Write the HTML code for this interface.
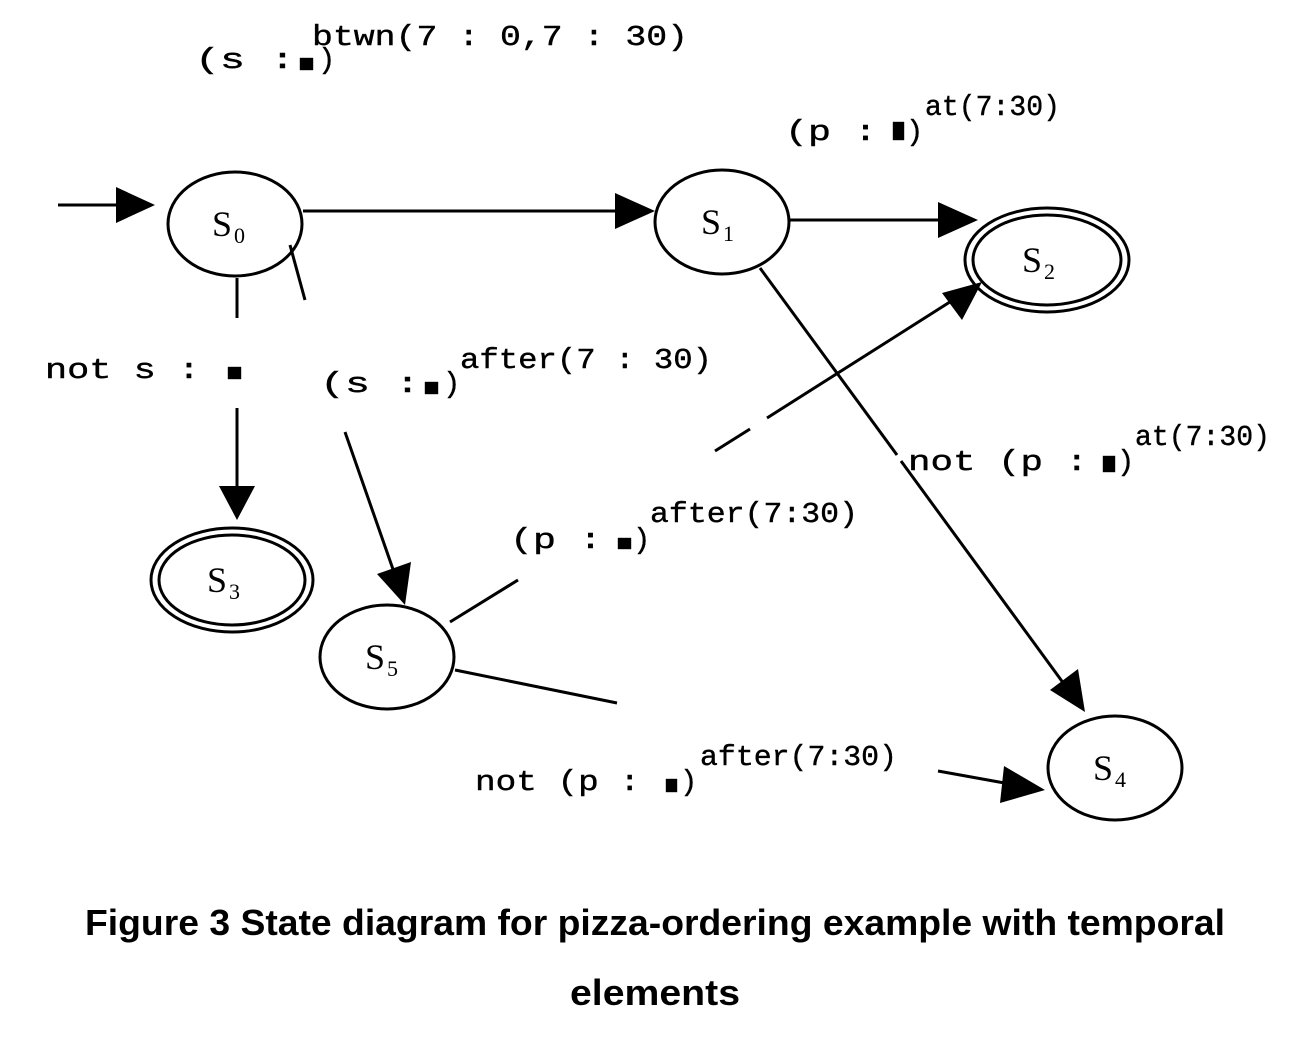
<!DOCTYPE html>
<html><head><meta charset="utf-8"><style>
html,body{margin:0;padding:0;background:#fff;}
svg{display:block}
.m{font-family:"Liberation Mono",monospace;font-size:29px;fill:#000;stroke:#000;stroke-width:0.4}
.s{font-family:"Liberation Serif",serif;font-size:36px;fill:#000}
.sub{font-family:"Liberation Serif",serif;font-size:22px;fill:#000}
.c{font-family:"Liberation Sans",sans-serif;font-size:36px;fill:#000;font-weight:bold}
</style></head><body>
<svg width="1306" height="1044" viewBox="0 0 1306 1044" xmlns="http://www.w3.org/2000/svg">
<defs><marker id="a" markerWidth="10" markerHeight="10" refX="10" refY="5" orient="auto" markerUnits="userSpaceOnUse" viewBox="0 0 10 10"><path d="M0,0 L10,5 L0,10z" fill="#000"/></marker></defs>
<g stroke="#000" stroke-width="3" fill="none">
<ellipse cx="235" cy="224" rx="67" ry="52"/>
<ellipse cx="722" cy="222" rx="67" ry="52"/>
<ellipse cx="1047" cy="260" rx="82" ry="52"/>
<ellipse cx="1047" cy="260" rx="74" ry="45"/>
<ellipse cx="232" cy="580" rx="81" ry="52"/>
<ellipse cx="232" cy="580" rx="73" ry="45"/>
<ellipse cx="1115" cy="768" rx="67" ry="52"/>
<ellipse cx="387" cy="657" rx="67" ry="52"/>
<line x1="58" y1="205" x2="118" y2="205"/>
<line x1="303" y1="211" x2="620" y2="211"/>
<line x1="789" y1="220" x2="945" y2="220"/>
<line x1="760" y1="268" x2="897" y2="455"/>
<line x1="901" y1="461" x2="1064" y2="684"/>
<line x1="237" y1="278" x2="237" y2="318"/>
<line x1="237" y1="408" x2="237" y2="488"/>
<line x1="290" y1="245" x2="305" y2="300"/>
<line x1="345" y1="432" x2="395" y2="575"/>
<line x1="450" y1="622" x2="518" y2="580"/>
<line x1="715" y1="451" x2="750" y2="429"/>
<line x1="767" y1="418" x2="953" y2="300"/>
<line x1="455" y1="670" x2="617" y2="703"/>
<line x1="938" y1="771" x2="1010" y2="784"/>
</g>
<g fill="#000">
<path d="M155,205 L116,187 L116,223z"/>
<path d="M655,211 L615,193 L615,229z"/>
<path d="M978,220 L938,202 L938,238z"/>
<path d="M237,520 L219,486 L255,486z"/>
<path d="M405,605 L377,574 L411,562z"/>
<path d="M982,282 L942,293 L962,320z"/>
<path d="M1085,712 L1050,690 L1078,669z"/>
<path d="M1045,790 L1004,766 L1000,803z"/>
</g>
<text class="s" x="212" y="236">S</text><text class="sub" x="234" y="243">0</text>
<text class="s" x="701" y="234">S</text><text class="sub" x="723" y="241">1</text>
<text class="s" x="1022" y="272">S</text><text class="sub" x="1044" y="279">2</text>
<text class="s" x="207" y="592">S</text><text class="sub" x="229" y="599">3</text>
<text class="s" x="1093" y="780">S</text><text class="sub" x="1115" y="787">4</text>
<text class="s" x="365" y="669">S</text><text class="sub" x="387" y="676">5</text>
<g class="m">
<text x="195" y="68" textLength="100" lengthAdjust="spacingAndGlyphs">(s :</text><rect x="300" y="58" width="13" height="12"/><text x="318" y="68">)</text>
<text x="312" y="45" textLength="376" lengthAdjust="spacingAndGlyphs">btwn(7 : 0,7 : 30)</text>
<text x="785" y="140" textLength="92" lengthAdjust="spacingAndGlyphs">(p :</text><rect x="893" y="122" width="11" height="18"/><text x="906" y="140">)</text>
<text x="925" y="115" textLength="135" lengthAdjust="spacingAndGlyphs">at(7:30)</text>
<text x="45" y="378" textLength="155" lengthAdjust="spacingAndGlyphs">not s :</text><rect x="228" y="367" width="13" height="12"/>
<text x="320" y="392" textLength="100" lengthAdjust="spacingAndGlyphs">(s :</text><rect x="425" y="382" width="13" height="12"/><text x="443" y="392">)</text>
<text x="460" y="368" textLength="252" lengthAdjust="spacingAndGlyphs">after(7 : 30)</text>
<text x="908" y="470" textLength="180" lengthAdjust="spacingAndGlyphs">not (p :</text><rect x="1103" y="456" width="12" height="16"/><text x="1117" y="470">)</text>
<text x="1135" y="445" textLength="135" lengthAdjust="spacingAndGlyphs">at(7:30)</text>
<text x="510" y="548" textLength="92" lengthAdjust="spacingAndGlyphs">(p :</text><rect x="618" y="538" width="13" height="11"/><text x="633" y="548">)</text>
<text x="650" y="522" textLength="208" lengthAdjust="spacingAndGlyphs">after(7:30)</text>
<text x="475" y="790" textLength="165" lengthAdjust="spacingAndGlyphs">not (p :</text><rect x="666" y="779" width="11" height="13"/><text x="680" y="790">)</text>
<text x="700" y="765" textLength="197" lengthAdjust="spacingAndGlyphs">after(7:30)</text>
</g>
<text class="c" x="85" y="935" textLength="1140" lengthAdjust="spacingAndGlyphs">Figure 3 State diagram for pizza-ordering example with temporal</text>
<text class="c" x="570" y="1005" textLength="170" lengthAdjust="spacingAndGlyphs">elements</text>
</svg>
</body></html>
